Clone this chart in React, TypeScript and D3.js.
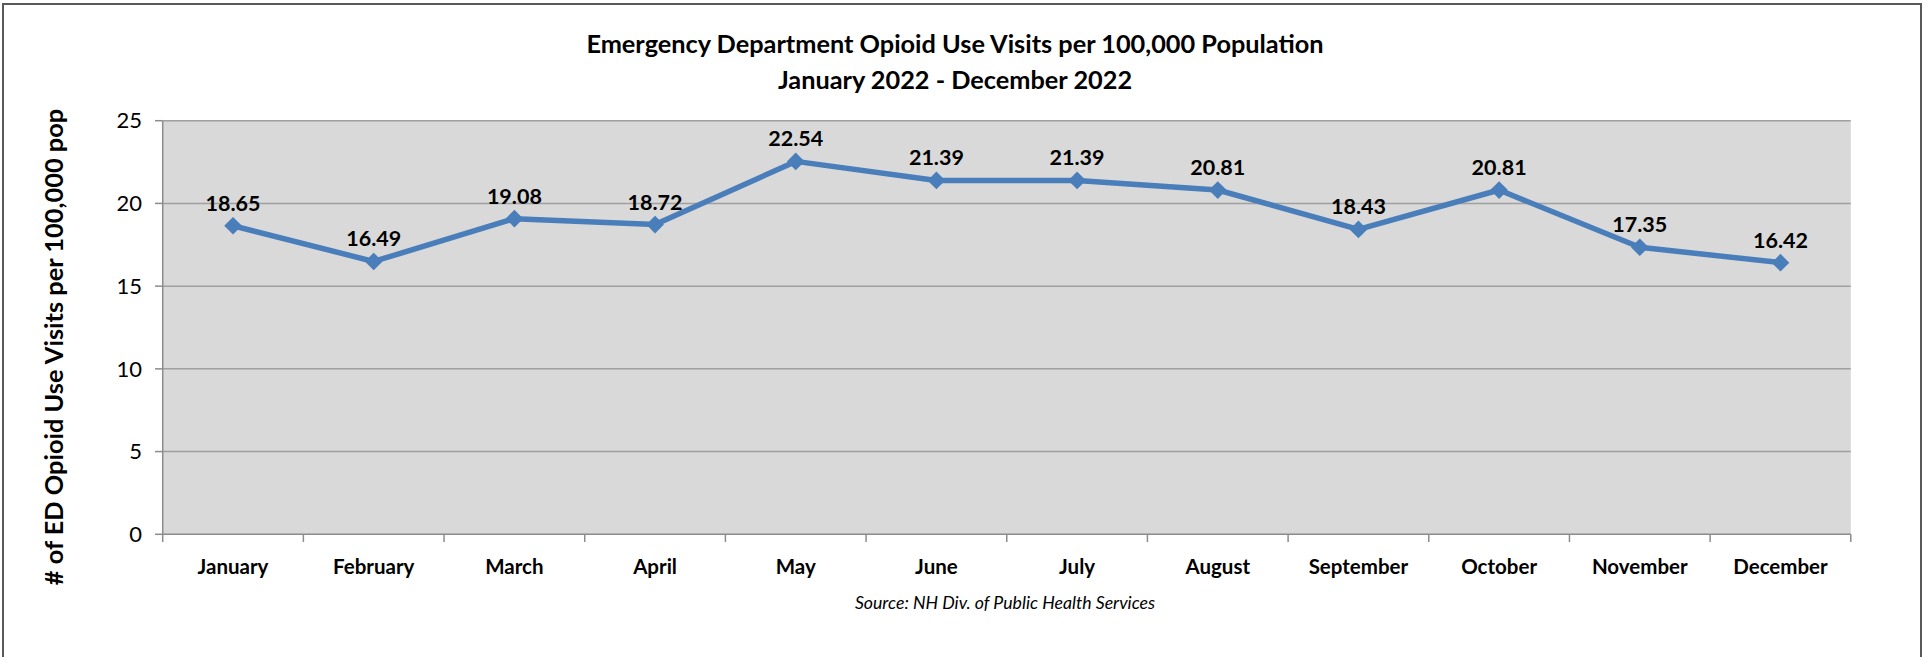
import React from "react";
import * as d3 from "d3";

const months = [
  "January", "February", "March", "April", "May", "June",
  "July", "August", "September", "October", "November", "December",
];
const visits = [18.65, 16.49, 19.08, 18.72, 22.54, 21.39, 21.39, 20.81, 18.43, 20.81, 17.35, 16.42];
const yTicks = [0, 5, 10, 15, 20, 25];
const titleLines = [
  "Emergency Department Opioid Use Visits per 100,000 Population",
  "January 2022 - December 2022",
];

const W = 1927;
const H = 657;
const plot = { left: 162.7, right: 1850.8, top: 120.7, bottom: 534.3 };
const font = "Lato, 'Open Sans', sans-serif";

const App: React.FC = () => {
  const x = d3.scaleBand<string>().domain(months).range([plot.left, plot.right]);
  const y = d3.scaleLinear().domain([0, 25]).range([plot.bottom, plot.top]);
  const cx = (m: string) => (x(m) as number) + x.bandwidth() / 2;

  const line = d3
    .line<number>()
    .x((_, i) => cx(months[i]))
    .y((d) => y(d));
  const diamond = d3.symbol().type(d3.symbolDiamond2).size(200)() as string;

  // band edges for x ticks
  const edges = months.map((m) => x(m) as number).concat([plot.right]);

  return (
    <svg
      width={W}
      height={H}
      style={{ position: "absolute", left: 0, top: 0, background: "#fff" }}
      fontFamily={font}
    >
      <rect x={3} y={4} width={1918} height={700} fill="#fff" stroke="#595959" strokeWidth={2} />

      {titleLines.map((t, i) => (
        <text key={t} x={955} y={53 + i * 36} textAnchor="middle" fontSize={25.3} fontWeight="bold" fill="#000">
          {t}
        </text>
      ))}

      <rect x={plot.left} y={plot.top} width={plot.right - plot.left} height={plot.bottom - plot.top} fill="#D9D9D9" />

      {/* gridlines */}
      {yTicks.filter((t) => t > 0).map((t) => (
        <line key={t} x1={plot.left} x2={plot.right} y1={y(t)} y2={y(t)} stroke="#A0A0A0" strokeWidth={1.5} />
      ))}

      {/* y axis */}
      <line x1={plot.left} x2={plot.left} y1={plot.top} y2={plot.bottom} stroke="#8C8C8C" strokeWidth={1.5} />
      {yTicks.map((t) => (
        <g key={t}>
          <line x1={155} x2={plot.left} y1={y(t)} y2={y(t)} stroke="#8C8C8C" strokeWidth={1.5} />
          <text x={142} y={y(t)} dy="0.35em" textAnchor="end" fontSize={22} fill="#000">
            {t}
          </text>
        </g>
      ))}

      {/* x axis */}
      <line x1={plot.left} x2={plot.right} y1={plot.bottom} y2={plot.bottom} stroke="#8C8C8C" strokeWidth={1.5} />
      {edges.map((e, i) => (
        <line key={i} x1={e} x2={e} y1={plot.bottom} y2={542} stroke="#8C8C8C" strokeWidth={1.5} />
      ))}
      {months.map((m) => (
        <text key={m} x={cx(m)} y={574} textAnchor="middle" fontSize={20.5} fontWeight="bold" fill="#000">
          {m}
        </text>
      ))}

      {/* series */}
      <path d={line(visits) as string} fill="none" stroke="#4A7EBB" strokeWidth={5.5} strokeLinejoin="round" />
      {visits.map((v, i) => (
        <path key={i} d={diamond} transform={`translate(${cx(months[i])},${y(v)})`} fill="#4A7EBB" />
      ))}
      {visits.map((v, i) => (
        <text key={i} x={cx(months[i])} y={y(v) - 15} textAnchor="middle" fontSize={21.5} fontWeight="bold" fill="#000">
          {v.toFixed(2)}
        </text>
      ))}

      <text
        transform="translate(63,347) rotate(-90)"
        textAnchor="middle"
        fontSize={25.4}
        fontWeight="bold"
        fill="#000"
      >
        # of ED Opioid Use Visits per 100,000 pop
      </text>

      <text x={1005} y={609} textAnchor="middle" fontSize={17.7} fontStyle="italic" fill="#000">
        Source: NH Div. of Public Health Services
      </text>
    </svg>
  );
};

export default App;
